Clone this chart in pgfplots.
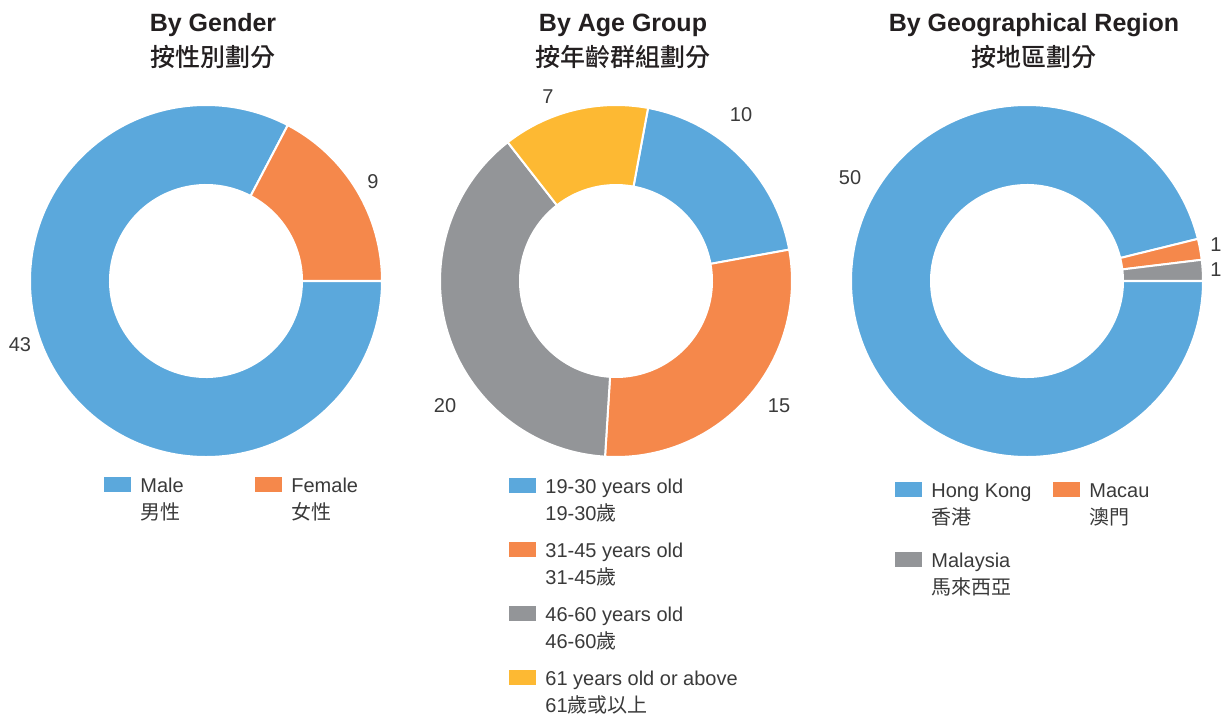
\documentclass[border=0pt]{standalone}
\usepackage{fontspec}
\setmainfont{Liberation Sans}
\newfontfamily\cjk{Noto Sans CJK TC}
\newfontfamily\cjkm{Noto Sans CJK TC Medium}
\usepackage{pgfplots}
\usepackage{pgfplotstable}
\pgfplotsset{compat=1.18}

\definecolor{cblue}{HTML}{5BA8DC}
\definecolor{corange}{HTML}{F5884B}
\definecolor{cgray}{HTML}{939598}
\definecolor{cyellow}{HTML}{FDB933}
\definecolor{ttl}{HTML}{231F20}
\definecolor{txt}{HTML}{3A3A3A}

% donut data
\pgfplotstableread{
label value col
Male 43 cblue
Female 9 corange
}\gender
\pgfplotstableread{
label value col
19-30 10 cblue
31-45 15 corange
46-60 20 cgray
61+ 7 cyellow
}\agegrp
\pgfplotstableread{
label value col
HongKong 50 cblue
Macau 1 corange
Malaysia 1 cgray
}\region

% #1 table, #2 cx, #3 cy (pixels, y down), #4 angle of first slice
\newcommand\donut[4]{%
  \pgfplotstablegetrowsof{#1}%
  \pgfmathtruncatemacro\lastrow{\pgfplotsretval-1}%
  \xdef\tot{0}%
  \foreach \i in {0,...,\lastrow}{%
    \pgfplotstablegetelem{\i}{value}\of#1%
    \pgfmathsetmacro\tmp{\tot+\pgfplotsretval}%
    \xdef\tot{\tmp}}%
  \xdef\acur{#4}%
  \foreach \i in {0,...,\lastrow}{%
    \pgfplotstablegetelem{\i}{value}\of#1%
    \pgfmathsetmacro\anext{\acur-\pgfplotsretval/\tot*360}%
    \pgfplotstablegetelem{\i}{col}\of#1%
    \edef\segcol{\pgfplotsretval}%
    \pgfmathsetmacro\xa{#2+176*cos(\acur)}%
    \pgfmathsetmacro\ya{#3-176*sin(\acur)}%
    \pgfmathsetmacro\xb{#2+96*cos(\anext)}%
    \pgfmathsetmacro\yb{#3-96*sin(\anext)}%
    \fill[fill=\segcol, draw=white, line width=1pt]
      (axis cs:\xa,\ya) arc[start angle=\acur, end angle=\anext, radius=88pt]
      -- (axis cs:\xb,\yb) arc[start angle=\anext, end angle=\acur, radius=48pt] -- cycle;
    \xdef\acur{\anext}}%
}

% #1 x, #2 top y, #3 colour, #4 first line, #5 second line
\newcommand\legent[5]{%
  \pgfmathsetmacro\lxa{#1+27}\pgfmathsetmacro\lya{#2+15}%
  \pgfmathsetmacro\lxt{#1+36}\pgfmathsetmacro\lyb{#2+42}%
  \fill[#3] (axis cs:#1,#2) rectangle (axis cs:\lxa,\lya);
  \node[anchor=base west, inner sep=0pt, text=txt, font=\fontsize{10}{12}\selectfont] at (axis cs:\lxt,\lya) {#4};
  \node[anchor=base west, inner sep=0pt, text=txt, font=\fontsize{10}{12}\selectfont] at (axis cs:\lxt,\lyb) {#5};
}

\begin{document}
\begin{tikzpicture}
\begin{axis}[
  x=0.5pt, y=0.5pt,
  xmin=0, xmax=1224, ymin=0, ymax=717,
  y dir=reverse,
  hide axis, clip=false,
]
\pgfplotsextra{
  \path (axis cs:0,0) rectangle (axis cs:1224,717);
  \donut{\gender}{206}{281}{0}
  \donut{\agegrp}{616}{281}{79.5}
  \donut{\region}{1027}{281}{0}

  % titles
  \tikzset{ttlnode/.style={anchor=base, inner sep=0pt, text=ttl, font=\fontsize{12.5}{15}\selectfont\bfseries},
           cjkttl/.style={anchor=base, inner sep=0pt, text=ttl, font=\fontsize{12.5}{15}\selectfont\cjkm\mdseries}}
  \node[ttlnode] at (axis cs:213,32) {By Gender};
  \node[cjkttl] at (axis cs:213,67) {按性別劃分};
  \node[ttlnode] at (axis cs:623,32) {By Age Group};
  \node[cjkttl] at (axis cs:623,67) {按年齡群組劃分};
  \node[ttlnode] at (axis cs:1034,32) {By Geographical Region};
  \node[cjkttl] at (axis cs:1034,67) {按地區劃分};

  % data labels
  \tikzset{dl/.style={inner sep=0pt, text=txt, font=\fontsize{10}{12}\selectfont}}
  \node[dl] at (axis cs:373,182) {9};
  \node[dl] at (axis cs:20,345) {43};
  \node[dl] at (axis cs:741,115) {10};
  \node[dl] at (axis cs:779,406) {15};
  \node[dl] at (axis cs:445,406) {20};
  \node[dl] at (axis cs:548,97) {7};
  \node[dl] at (axis cs:850,178) {50};
  \node[dl] at (axis cs:1216,245) {1};
  \node[dl] at (axis cs:1216,270) {1};

  % legends
  \legent{104}{477}{cblue}{Male}{\cjk 男性}
  \legent{255}{477}{corange}{Female}{\cjk 女性}
  \legent{509}{478}{cblue}{19-30 years old}{19-30{\cjk 歲}}
  \legent{509}{542}{corange}{31-45 years old}{31-45{\cjk 歲}}
  \legent{509}{606}{cgray}{46-60 years old}{46-60{\cjk 歲}}
  \legent{509}{670}{cyellow}{61 years old or above}{61{\cjk 歲或以上}}
  \legent{895}{482}{cblue}{Hong Kong}{\cjk 香港}
  \legent{1053}{482}{corange}{Macau}{\cjk 澳門}
  \legent{895}{552}{cgray}{Malaysia}{\cjk 馬來西亞}
}
\end{axis}
\end{tikzpicture}
\end{document}
